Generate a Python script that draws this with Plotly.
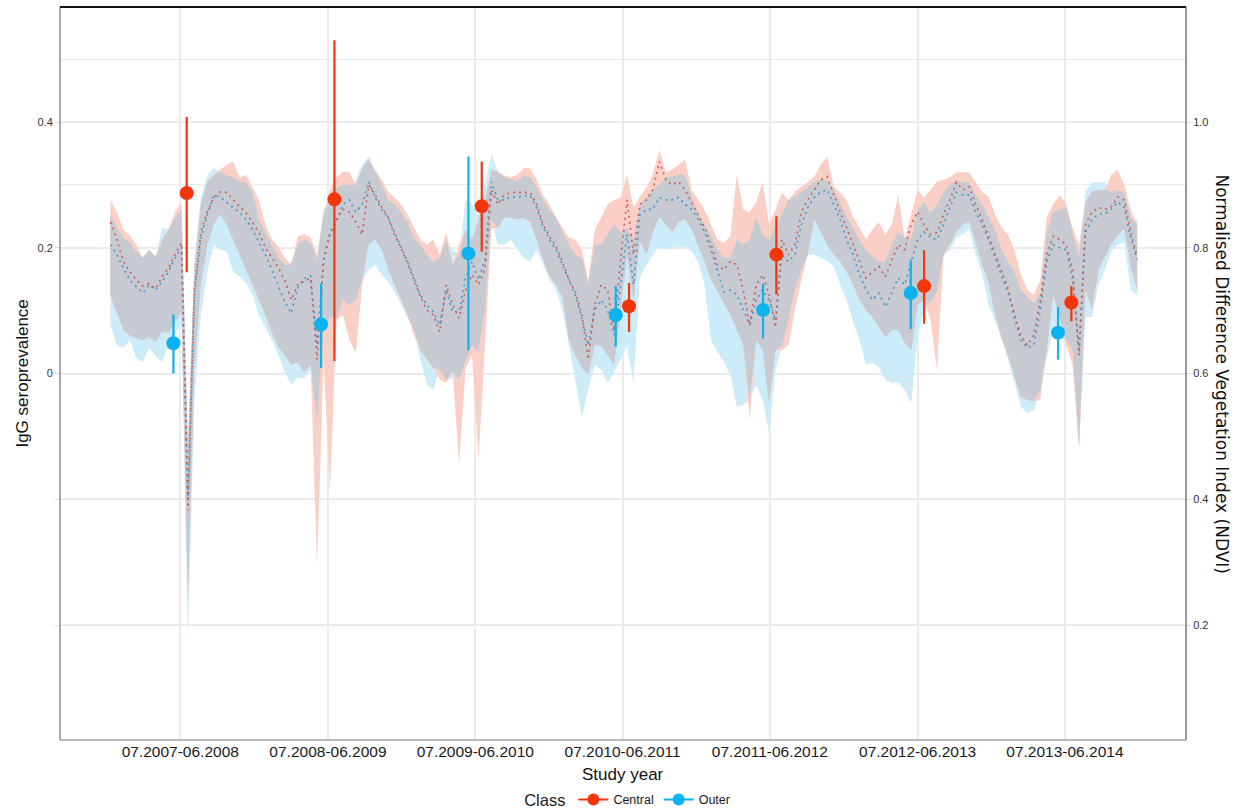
import numpy as np
import pandas as pd
import plotly.graph_objects as go

# ---------------- NDVI time series (16-day composites) ----------------
dates = pd.date_range("2007-07-12", periods=160, freq="16D")

central_mean = [
    .841, .813, .778, .762, .749, .739, .743, .735, .754, .768, .789, .808,
    .382, .733, .825, .857, .880, .889, .888, .876, .865, .856, .841,
    .824, .800, .784, .768, .749, .717, .741, .747, .752, .622, .781, .821, .845, .861, .857, .841, .821, .900, .884, .865, .848, .821, .800,
    .776, .749, .722, .701, .693, .666, .741, .709, .688, .733, .757, .741, .765, .892, .869, .884, .888, .888, .888, .888, .869, .837, .818,
    .802, .778, .749, .730, .693, .622, .709, .741, .733, .669, .781, .876, .789, .869, .876, .892, .937, .908, .900, .905, .892, .872, .853,
    .832, .805, .773, .765, .778, .773, .733, .677, .741, .757, .725, .673, .813, .789, .805, .857, .876, .892, .908, .913, .884, .857, .832,
    .805, .778, .752, .762, .770, .754, .781, .805, .797, .837, .857, .837, .821, .824, .853, .876, .904, .892, .897, .869, .845, .818, .789,
    .762, .736, .693, .661, .645, .661, .717, .789, .818, .813, .805, .765, .629, .837, .857, .864, .861, .865, .881, .876, .825, .786]

outer_mean = [
    .805, .789, .768, .749, .738, .728, .741, .733, .746, .762, .784, .800,
    .398, .725, .816, .853, .883, .881, .872, .864, .856, .845, .829,
    .808, .789, .765, .741, .714, .696, .736, .751, .755, .645, .778, .825, .841, .869, .876, .857, .869, .905, .880, .861, .848, .824, .802,
    .778, .752, .725, .709, .698, .677, .733, .698, .698, .752, .778, .749, .781, .905, .876, .876, .881, .880, .883, .883, .864, .833, .813,
    .797, .773, .746, .725, .688, .645, .701, .717, .701, .661, .741, .821, .741, .853, .861, .861, .880, .876, .876, .880, .869, .861, .845,
    .825, .797, .765, .730, .733, .725, .701, .677, .717, .733, .717, .685, .789, .778, .789, .837, .864, .880, .889, .892, .869, .845, .813,
    .789, .757, .733, .717, .728, .706, .730, .752, .741, .778, .813, .825, .816, .813, .837, .864, .888, .884, .884, .857, .837, .813, .784,
    .755, .730, .688, .653, .641, .645, .701, .778, .805, .800, .797, .752, .637, .825, .845, .853, .854, .861, .873, .864, .816, .781]

central_high = [
    .876, .856, .829, .819, .805, .784, .797, .787, .813, .829, .857, .872,
    .494, .768, .869, .905, .916, .924, .932, .937, .912, .916, .896,
    .876, .837, .813, .802, .784, .773, .818, .822, .816, .789, .853, .892, .912, .921, .921, .900, .927, .940, .924, .908, .889, .880, .869,
    .853, .832, .813, .805, .813, .789, .825, .773, .805, .829, .813, .845, .876, .924, .921, .915, .912, .916, .927, .927, .908, .884, .869,
    .848, .832, .816, .813, .797, .749, .829, .848, .869, .876, .880, .916, .865, .881, .896, .916, .956, .921, .924, .932, .940, .892, .876,
    .861, .837, .813, .808, .818, .916, .861, .857, .872, .904, .837, .861, .888, .876, .889, .897, .905, .913, .932, .945, .897, .888, .876,
    .849, .832, .813, .829, .841, .821, .837, .884, .816, .853, .892, .880, .892, .905, .908, .912, .920, .920, .920, .904, .889, .881, .853,
    .832, .821, .797, .757, .733, .725, .749, .849, .869, .884, .869, .832, .805, .873, .889, .892, .892, .916, .924, .900, .861, .837]

outer_high = [
    .853, .832, .816, .808, .794, .784, .797, .784, .832, .829, .848, .861,
    .478, .778, .880, .916, .927, .921, .915, .912, .905, .904, .889,
    .845, .825, .805, .784, .773, .778, .805, .813, .808, .781, .861, .876, .896, .900, .900, .908, .932, .945, .921, .900, .876, .869, .857,
    .841, .816, .805, .789, .778, .784, .813, .797, .789, .876, .869, .853, .900, .948, .921, .912, .908, .905, .915, .912, .896, .876, .861,
    .848, .825, .805, .789, .784, .741, .805, .805, .821, .837, .825, .832, .813, .869, .880, .892, .900, .912, .913, .916, .916, .880, .856,
    .837, .821, .797, .784, .784, .813, .805, .813, .849, .821, .813, .832, .853, .876, .881, .888, .896, .905, .908, .908, .892, .872, .849,
    .832, .813, .797, .786, .778, .778, .805, .825, .816, .813, .861, .872, .856, .869, .888, .900, .908, .904, .904, .884, .869, .849, .829,
    .797, .778, .762, .733, .722, .712, .728, .824, .857, .861, .865, .824, .786, .889, .904, .904, .904, .889, .892, .888, .849, .845]

central_low = [
    .725, .698, .669, .660, .657, .653, .658, .650, .666, .665, .682, .698,
    .239, .606, .741, .805, .837, .853, .837, .813, .789, .762, .741,
    .717, .693, .665, .642, .629, .614, .618, .602, .614, .292, .622, .414, .685, .693, .653, .633, .741, .805, .813, .797, .765, .741, .717,
    .693, .661, .637, .622, .609, .590, .585, .602, .457, .609, .629, .462, .653, .829, .832, .848, .848, .845, .848, .841, .813, .781, .754,
    .741, .722, .653, .629, .609, .598, .645, .645, .629, .614, .701, .789, .717, .810, .789, .824, .849, .837, .825, .841, .845, .829, .805,
    .778, .749, .730, .712, .693, .669, .645, .526, .653, .637, .553, .637, .637, .645, .701, .749, .789, .845, .824, .805, .789, .778, .762,
    .741, .717, .701, .690, .674, .658, .669, .669, .649, .637, .709, .717, .685, .606, .786, .805, .824, .837, .841, .805, .773, .744, .693,
    .653, .629, .594, .563, .558, .556, .558, .637, .725, .690, .645, .614, .478, .733, .701, .765, .784, .805, .821, .829, .770, .733]

outer_low = [
    .677, .645, .641, .653, .625, .618, .641, .628, .618, .645, .661, .682,
    .180, .558, .693, .762, .805, .797, .794, .762, .754, .744, .725,
    .693, .673, .653, .629, .602, .582, .593, .593, .606, .526, .669, .688, .688, .717, .709, .717, .749, .765, .773, .757, .746, .730, .709,
    .688, .669, .622, .582, .574, .606, .590, .593, .590, .622, .645, .637, .701, .845, .805, .805, .813, .797, .784, .778, .797, .773, .749,
    .733, .701, .645, .585, .531, .574, .614, .606, .585, .602, .622, .645, .585, .754, .773, .789, .802, .797, .800, .802, .802, .794, .778,
    .741, .653, .634, .618, .598, .547, .550, .558, .582, .558, .505, .606, .645, .685, .733, .765, .789, .789, .784, .778, .770, .741, .717,
    .682, .653, .614, .617, .610, .590, .585, .586, .574, .553, .658, .701, .712, .733, .789, .797, .816, .821, .829, .789, .757, .709, .685,
    .658, .622, .586, .547, .537, .542, .574, .626, .669, .658, .653, .637, .486, .690, .690, .741, .765, .794, .805, .808, .733, .725]

# ---------------- IgG seroprevalence per study year ----------------
study_years = ["07.2007-06.2008", "07.2008-06.2009", "07.2009-06.2010", "07.2010-06.2011",
               "07.2011-06.2012", "07.2012-06.2013", "07.2013-06.2014"]
year_mid = ["2008-01-01", "2009-01-01", "2010-01-01", "2011-01-01",
            "2012-01-01", "2013-01-01", "2014-01-01"]
central_prev = [0.287, 0.277, 0.266, 0.107, 0.189, 0.139, 0.113]
central_ci_lo = [0.161, 0.020, 0.194, 0.066, 0.126, 0.079, 0.083]
central_ci_hi = [0.408, 0.530, 0.337, 0.144, 0.250, 0.196, 0.139]
outer_prev = [0.048, 0.078, 0.191, 0.093, 0.101, 0.128, 0.065]
outer_ci_lo = [0.000, 0.009, 0.037, 0.043, 0.056, 0.071, 0.022]
outer_ci_hi = [0.094, 0.143, 0.345, 0.139, 0.143, 0.181, 0.106]

# ---------------- styling ----------------
RED = "#F2360C"
BLUE = "#0BB4EE"
RED_DOT = "#C9655E"
BLUE_DOT = "#4A9BCB"
FILL_RED = "#FAD0C6"
FILL_BLUE = "#CDECFA"
FILL_GRAY = "#C8CAD2"
FONT = "Liberation Sans, Arial, sans-serif"

cm = np.array(central_mean); om = np.array(outer_mean)
ch = np.array(central_high); oh = np.array(outer_high)
cl = np.array(central_low); ol = np.array(outer_low)
ov_lo = np.maximum(cl, ol)
ov_hi = np.maximum(np.minimum(ch, oh), ov_lo)

fig = go.Figure()

def band(lo, hi, color):
    fig.add_trace(go.Scatter(x=dates, y=lo, mode="lines", line=dict(width=0, color=color),
                             showlegend=False, hoverinfo="skip", yaxis="y"))
    fig.add_trace(go.Scatter(x=dates, y=hi, mode="lines", line=dict(width=0, color=color),
                             fill="tonexty", fillcolor=color, showlegend=False,
                             hoverinfo="skip", yaxis="y"))

band(ol, oh, FILL_BLUE)
band(cl, ch, FILL_RED)
band(ov_lo, ov_hi, FILL_GRAY)

fig.add_trace(go.Scatter(x=dates, y=om, mode="lines",
                         line=dict(color=BLUE_DOT, width=1.7, dash="2px,4px"),
                         showlegend=False, hoverinfo="skip", yaxis="y"))
fig.add_trace(go.Scatter(x=dates, y=cm, mode="lines",
                         line=dict(color=RED_DOT, width=1.7, dash="2px,4px"),
                         showlegend=False, hoverinfo="skip", yaxis="y"))

# dodged point positions
mid = pd.to_datetime(year_mid)
x_central = mid + pd.Timedelta(days=16)
x_outer = mid - pd.Timedelta(days=17)

cp = np.array(central_prev); op = np.array(outer_prev)
fig.add_trace(go.Scatter(
    x=x_outer, y=op, mode="markers", yaxis="y2", showlegend=False,
    marker=dict(color=BLUE, size=14),
    error_y=dict(type="data", symmetric=False, array=np.array(outer_ci_hi) - op,
                 arrayminus=op - np.array(outer_ci_lo), color=BLUE, thickness=2.2, width=0)))
fig.add_trace(go.Scatter(
    x=x_central, y=cp, mode="markers", yaxis="y2", showlegend=False,
    marker=dict(color=RED, size=14),
    error_y=dict(type="data", symmetric=False, array=np.array(central_ci_hi) - cp,
                 arrayminus=cp - np.array(central_ci_lo), color=RED, thickness=2.2, width=0)))

# legend entries
fig.add_trace(go.Scatter(x=[None], y=[None], mode="lines+markers", name="Central",
                         line=dict(color=RED, width=2), marker=dict(color=RED, size=12), yaxis="y2"))
fig.add_trace(go.Scatter(x=[None], y=[None], mode="lines+markers", name="Outer",
                         line=dict(color=BLUE, width=2), marker=dict(color=BLUE, size=12), yaxis="y2"))

GRID = "#EBEBEB"
fig.update_layout(
    width=1246, height=811,
    margin=dict(l=60, r=60, t=7, b=71, autoexpand=False),
    paper_bgcolor="white", plot_bgcolor="white",
    font=dict(family=FONT, color="#1a1a1a"),
    showlegend=True,
    legend=dict(orientation="h", x=0.505, xanchor="center", y=-0.083, yanchor="middle",
                traceorder="normal",
                title=dict(text="Class", font=dict(size=16.5, family=FONT)),
                font=dict(size=12.5, family=FONT), itemwidth=30, tracegroupgap=0),
    xaxis=dict(
        type="date", range=["2007-03-09", "2014-10-28"],
        tickmode="array", tickvals=year_mid, ticktext=study_years,
        tickfont=dict(size=15.5, color="#1a1a1a"),
        showgrid=True, gridcolor=GRID, gridwidth=1.5,
        ticks="", showline=False, zeroline=False),
    yaxis=dict(
        side="right", range=[0.0171, 1.1829],
        tickmode="array", tickvals=[0.2, 0.4, 0.6, 0.8, 1.0],
        ticktext=["0.2", "0.4", "0.6", "0.8", "1.0"],
        tickfont=dict(size=11, color="#333333"),
        showgrid=True, gridcolor=GRID, gridwidth=1.5,
        minor=dict(tickmode="array", tickvals=[0.9, 1.1], showgrid=True,
                   gridcolor=GRID, gridwidth=1.2, ticks=""),
        ticks="outside", ticklen=4, tickcolor="#D9D9D9",
        zeroline=False, showline=False),
    yaxis2=dict(
        side="left", overlaying="y", range=[-0.5829, 0.5829],
        tickmode="array", tickvals=[-0.4, -0.2, 0, 0.2, 0.4],
        ticktext=["", "", "0", "0.2", "0.4"],
        tickfont=dict(size=11, color="#333333"),
        showgrid=False, zeroline=False, showline=False,
        ticks="outside", ticklen=4, tickcolor="#D9D9D9"),
    shapes=[
        dict(type="line", xref="paper", yref="paper", x0=0, x1=0, y0=0, y1=1,
             line=dict(color="#8C8C8C", width=1.5)),
        dict(type="line", xref="paper", yref="paper", x0=1, x1=1, y0=0, y1=1,
             line=dict(color="#555555", width=1.2)),
        dict(type="line", xref="paper", yref="paper", x0=0, x1=1, y0=0, y1=0,
             line=dict(color="#A0A0A0", width=1.5)),
        dict(type="line", xref="paper", yref="paper", x0=0, x1=1, y0=1, y1=1,
             line=dict(color="#111111", width=2)),
    ],
    annotations=[
        dict(text="Study year", xref="paper", yref="paper", x=0.5, y=-0.0477,
             xanchor="center", yanchor="middle", showarrow=False,
             font=dict(size=17, family=FONT, color="#111111")),
        dict(text="IgG seroprevalence", xref="paper", yref="paper", x=-0.0337, y=0.5,
             xanchor="center", yanchor="middle", textangle=-90, showarrow=False,
             font=dict(size=17, family=FONT, color="#111111")),
        dict(text="Normalised Difference Vegetation Index (NDVI)", xref="paper", yref="paper",
             x=1.032, y=0.5, xanchor="center", yanchor="middle", textangle=90, showarrow=False,
             font=dict(size=17, family="DejaVu Sans, sans-serif", color="#111111")),
    ],
)

fig.write_html("out.html", config={"displayModeBar": False},
               post_script="document.body.style.margin='0px';")
